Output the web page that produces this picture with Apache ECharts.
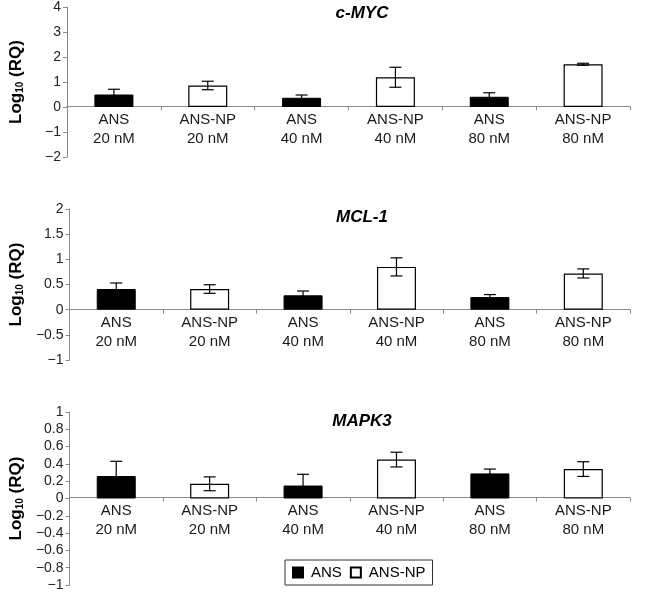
<!DOCTYPE html>
<html>
<head>
<meta charset="utf-8">
<script src="https://cdn.jsdelivr.net/npm/echarts@6/dist/echarts.min.js"></script>
<style>html,body{margin:0;padding:0;background:#fff}#c{width:650px;height:592px}</style>
</head>
<body>
<div id="c"></div>
<script>
const categories = ['ANS\n20 nM','ANS-NP\n20 nM','ANS\n40 nM','ANS-NP\n40 nM','ANS\n80 nM','ANS-NP\n80 nM'];
const groups = ['ANS','ANS-NP','ANS','ANS-NP','ANS','ANS-NP'];
const genes = ['c-MYC','MCL-1','MAPK3'];

const mycValues = [0.50, 0.86, 0.37, 1.19, 0.41, 1.71];
const mycErrors = [0.21, 0.17, 0.11, 0.40, 0.16, 0.04];
const mclValues = [0.41, 0.41, 0.285, 0.85, 0.25, 0.72];
const mclErrors = [0.12, 0.085, 0.085, 0.18, 0.05, 0.09];
const mapkValues = [0.26, 0.17, 0.15, 0.45, 0.29, 0.34];
const mapkErrors = [0.17, 0.08, 0.13, 0.085, 0.05, 0.085];

const yMins = [-2, -1, -1];
const yMaxs = [4, 2, 1];
const yIntervals = [1, 0.5, 0.2];

const panelValues = [mycValues, mclValues, mapkValues];
const panelErrors = [mycErrors, mclErrors, mapkErrors];

const grids = [
  {left: 66, top: 5, width: 564, height: 152},
  {left: 66, top: 209, width: 564, height: 151},
  {left: 66, top: 412, width: 564, height: 175}
];
const titleTops = [0, 204, 408];

const font = 'Liberation Sans, Arial, sans-serif';

function errRender(params, api) {
  const x = api.value(0), lo = api.value(1), hi = api.value(2);
  const pHi = api.coord([x, hi]);
  const pLo = api.coord([x, lo]);
  const w = 6;
  const st = {stroke: '#000', lineWidth: 1.2};
  return {type: 'group', children: [
    {type: 'line', shape: {x1: pHi[0], y1: pHi[1], x2: pLo[0], y2: pLo[1]}, style: st},
    {type: 'line', shape: {x1: pHi[0] - w, y1: pHi[1], x2: pHi[0] + w, y2: pHi[1]}, style: st},
    {type: 'line', shape: {x1: pLo[0] - w, y1: pLo[1], x2: pLo[0] + w, y2: pLo[1]}, style: st}
  ]};
}

const xAxes = [], yAxes = [], series = [], titles = [];
for (let i = 0; i < 3; i++) {
  titles.push({
    text: genes[i], left: 357, top: titleTops[i], textAlign: 'center',
    textStyle: {fontFamily: font, fontSize: 17, fontWeight: 'bold', fontStyle: 'italic', color: '#000'}
  });
  // shift the bottom x axis up to the zero line of its value axis
  const zeroOffset = -grids[i].height * (0 - yMins[i]) / (yMaxs[i] - yMins[i]);
  xAxes.push({
    type: 'category', gridIndex: i, data: categories, position: 'bottom', offset: zeroOffset,
    axisLine: {onZero: false, lineStyle: {color: '#8a8a8a', width: 1}},
    axisTick: {show: true, length: 4, interval: 0, lineStyle: {color: '#8a8a8a'}},
    axisLabel: {interval: 0, fontFamily: font, fontSize: 15, color: '#1a1a1a', lineHeight: 19, margin: 4}
  });
  yAxes.push({
    type: 'value', gridIndex: i, min: yMins[i], max: yMaxs[i], interval: yIntervals[i],
    name: 'Log{sub|10} (RQ)', nameLocation: 'middle', nameGap: 42,
    nameTextStyle: {fontFamily: font, fontSize: 17, fontWeight: 'bold', color: '#000',
      rich: {sub: {fontFamily: font, fontSize: 10, fontWeight: 'bold', color: '#000', verticalAlign: 'bottom', padding: [6, 0, 0, 0]}}},
    axisLine: {show: true, lineStyle: {color: '#8a8a8a', width: 1}},
    axisTick: {show: true, length: 4, lineStyle: {color: '#8a8a8a'}},
    splitLine: {show: false},
    axisLabel: {fontFamily: font, fontSize: 14, color: '#222', margin: 6, showMinLabel: true, showMaxLabel: true,
      formatter: v => String(Number(v.toFixed(2))).replace('-', '\u2212')}
  });
  const vals = panelValues[i], errs = panelErrors[i];
  series.push({
    name: 'ANS', type: 'bar', xAxisIndex: i, yAxisIndex: i, barWidth: 39, barGap: '-100%',
    data: vals.map((v, k) => groups[k] === 'ANS' ? v : '-'),
    itemStyle: {color: '#000', borderColor: '#000', borderWidth: 1}
  });
  series.push({
    name: 'ANS-NP', type: 'bar', xAxisIndex: i, yAxisIndex: i, barWidth: 39, barGap: '-100%',
    data: vals.map((v, k) => groups[k] === 'ANS-NP' ? v : '-'),
    itemStyle: {color: '#fff', borderColor: '#000', borderWidth: 1.2}
  });
  series.push({
    type: 'custom', xAxisIndex: i, yAxisIndex: i, z: 5,
    renderItem: errRender,
    encode: {x: 0, y: [1, 2]},
    data: vals.map((v, k) => [k, v - errs[k], v + errs[k]])
  });
}

const chart = echarts.init(document.getElementById('c'), null, {renderer: 'canvas'});
chart.setOption({
  animation: false,
  title: titles,
  grid: grids,
  xAxis: xAxes,
  yAxis: yAxes,
  legend: {
    data: ['ANS', 'ANS-NP'], left: 285, top: 560, orient: 'horizontal',
    itemWidth: 10, itemHeight: 10, itemGap: 8, icon: 'rect',
    borderColor: '#333', borderWidth: 1, padding: [5, 7, 5, 7],
    textStyle: {fontFamily: font, fontSize: 15, color: '#000', padding: [0, 0, 0, 3]}
  },
  series: series
});
</script>
</body>
</html>
